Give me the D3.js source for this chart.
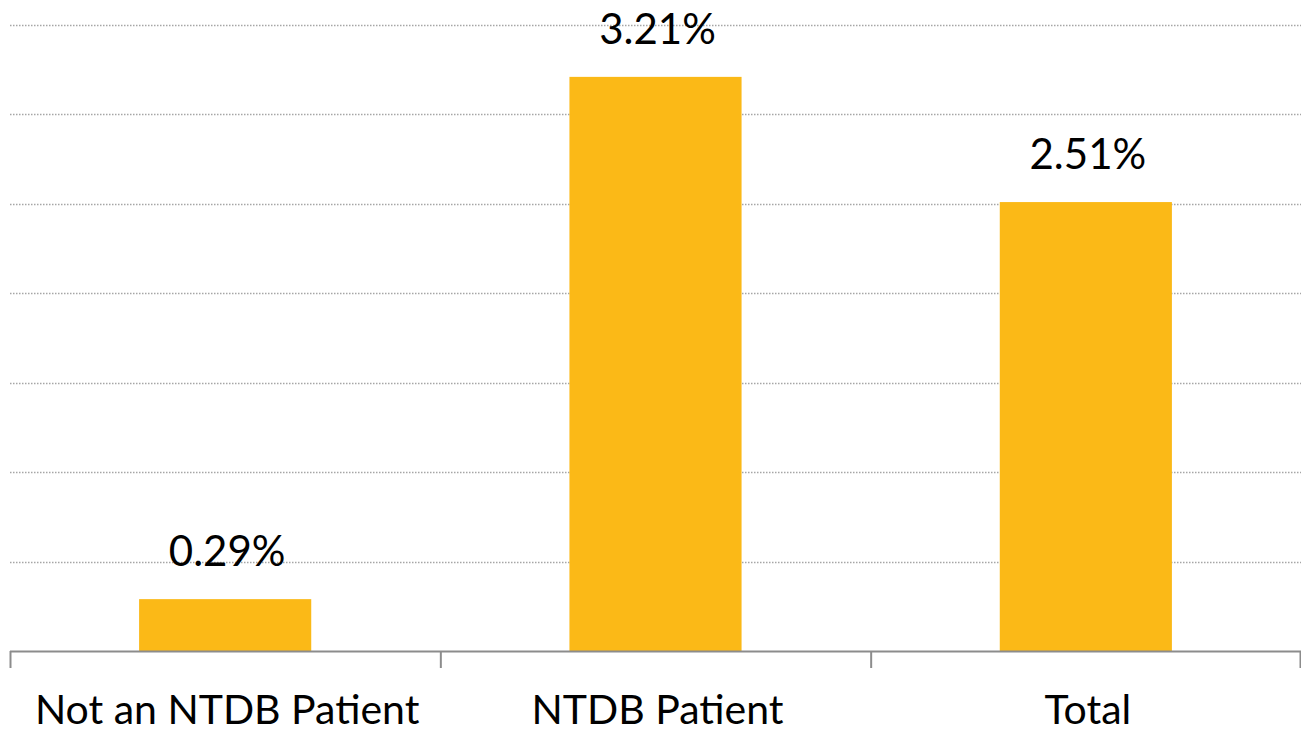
<!DOCTYPE html>
<html><head><meta charset="utf-8">
<script src="https://cdn.jsdelivr.net/npm/d3@7"></script>
<style>body{margin:0;background:#fff}svg{display:block}</style>
</head><body><svg id="c" width="1301" height="733"></svg>
<script>
const categories = ["Not an NTDB Patient", "NTDB Patient", "Total"];
const values = [0.29, 3.21, 2.51];
const valueLabels = ["0.29%", "3.21%", "2.51%"];
const yTicks = [0, 0.5, 1, 1.5, 2, 2.5, 3, 3.5];

const svg = d3.select("#c");
const font = "Lato, 'Open Sans', sans-serif";
const x = d3.scaleBand().domain(categories).range([10, 1301]).paddingInner(0.6).paddingOuter(0.3);
const band = d3.scaleBand().domain(categories).range([10, 1301]);
const y = d3.scaleLinear().domain([0, 3.5]).range([651, 25]);

svg.append("g").selectAll("line").data(yTicks.slice(1)).join("line")
  .attr("x1", 10).attr("x2", 1301)
  .attr("y1", d => Math.round(y(d)) + 0.5).attr("y2", d => Math.round(y(d)) + 0.5)
  .attr("stroke", "#a6a6a6").attr("stroke-width", 1.3).attr("stroke-dasharray", "1.5,1.5");

svg.append("g").selectAll("rect").data(values).join("rect")
  .attr("x", (d, i) => x(categories[i])).attr("width", x.bandwidth())
  .attr("y", d => y(d)).attr("height", d => y(0) - y(d))
  .attr("fill", "#FBB917");

const ax = svg.append("g").attr("transform", `translate(0,${y(0)})`);
ax.append("line").attr("x1", 10).attr("x2", 1301).attr("y1", 0.5).attr("y2", 0.5).attr("stroke", "#8c8c8c").attr("stroke-width", 2);
const tickX = categories.map(c => band(c)).concat([1300]);
ax.selectAll(".t").data(tickX).join("line").attr("class", "t")
  .attr("x1", d => d + 0.5).attr("x2", d => d + 0.5).attr("y1", 0).attr("y2", 17)
  .attr("stroke", "#8c8c8c").attr("stroke-width", 2);

svg.append("g").selectAll("text").data(categories).join("text")
  .attr("x", d => band(d) + band.bandwidth() / 2 + 2).attr("y", 724)
  .attr("text-anchor", "middle").attr("font-family", font).attr("font-size", 41)
  .attr("fill", "#000").text(d => d);

svg.append("g").selectAll("text").data(values).join("text")
  .attr("x", (d, i) => x(categories[i]) + x.bandwidth() / 2 + 2).attr("y", d => y(d) - 33)
  .attr("text-anchor", "middle").attr("font-family", font).attr("font-size", 42)
  .attr("fill", "#000").text((d, i) => valueLabels[i]);
</script></body></html>
